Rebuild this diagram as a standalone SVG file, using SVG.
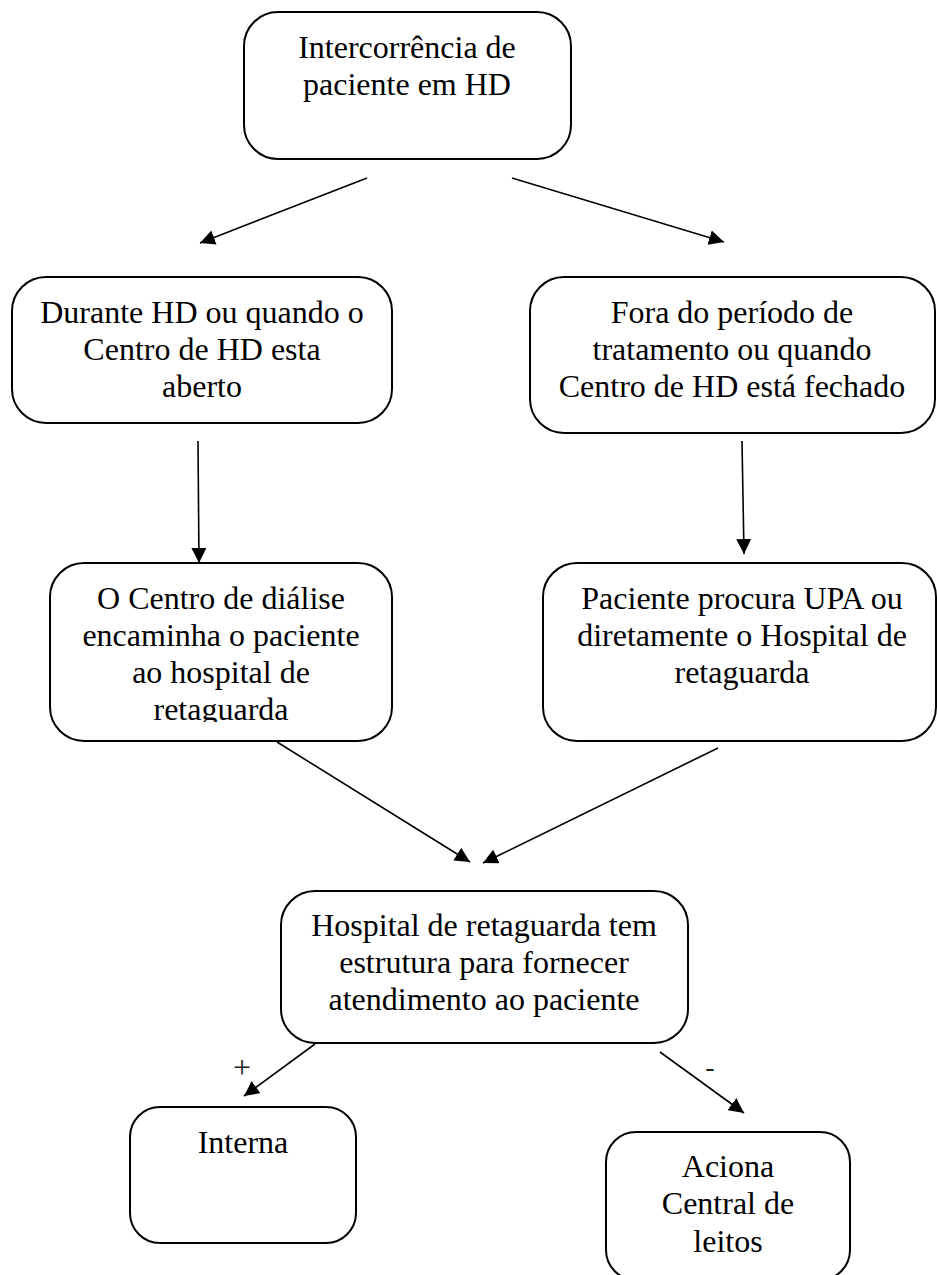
<svg xmlns="http://www.w3.org/2000/svg" width="937" height="1275" viewBox="0 0 937 1275">
  <style>
    .box { fill: #ffffff; stroke: #000000; stroke-width: 2; }
    .t { font-family: "Liberation Serif", "Times New Roman", serif; font-size: 32px; fill: #000000; text-anchor: middle; }
    .lbl { font-family: "Liberation Serif", "Times New Roman", serif; fill: #222222; text-anchor: middle; }
    .conn { fill: none; stroke: #000000; stroke-width: 1.6; }
  </style>
  <defs>
    <marker id="arrow" markerUnits="userSpaceOnUse" markerWidth="15" markerHeight="15" refX="15" refY="7.5" orient="auto">
      <path d="M0,0 L15,7.5 L0,15 z" fill="#000000"/>
    </marker>
    <clipPath id="clip4">
      <rect x="50" y="563" width="342" height="159"/>
    </clipPath>
  </defs>
  <rect width="937" height="1275" fill="#ffffff"/>

  <g id="n1">
    <rect class="box" x="244" y="12" width="327" height="147" rx="34" ry="34"/>
    <text class="t" x="407" y="58">Intercorrência de</text>
    <text class="t" x="407" y="95">paciente em HD</text>
  </g>

  <g id="n2">
    <rect class="box" x="12" y="277" width="380" height="146" rx="34" ry="34"/>
    <text class="t" x="202" y="323">Durante HD ou quando o</text>
    <text class="t" x="202" y="360">Centro de HD esta</text>
    <text class="t" x="202" y="397">aberto</text>
  </g>

  <g id="n3">
    <rect class="box" x="530" y="277" width="405" height="156" rx="34" ry="34"/>
    <text class="t" x="732" y="323">Fora do período de</text>
    <text class="t" x="732" y="360">tratamento ou quando</text>
    <text class="t" x="732" y="397">Centro de HD está fechado</text>
  </g>

  <g id="n4">
    <rect class="box" x="50" y="563" width="342" height="178" rx="34" ry="34"/>
    <g clip-path="url(#clip4)">
      <text class="t" x="221" y="609">O Centro de diálise</text>
      <text class="t" x="221" y="646">encaminha o paciente</text>
      <text class="t" x="221" y="683">ao hospital de</text>
      <text class="t" x="221" y="720">retaguarda</text>
    </g>
  </g>

  <g id="n5">
    <rect class="box" x="543" y="563" width="393" height="178" rx="34" ry="34"/>
    <text class="t" x="742" y="609">Paciente procura UPA ou</text>
    <text class="t" x="742" y="646">diretamente o Hospital de</text>
    <text class="t" x="742" y="683">retaguarda</text>
  </g>

  <g id="n6">
    <rect class="box" x="281" y="891" width="407" height="152" rx="34" ry="34"/>
    <text class="t" x="484" y="936">Hospital de retaguarda tem</text>
    <text class="t" x="484" y="973">estrutura para fornecer</text>
    <text class="t" x="484" y="1010">atendimento ao paciente</text>
  </g>

  <g id="n7">
    <rect class="box" x="130" y="1107" width="226" height="136" rx="30" ry="30"/>
    <text class="t" x="243" y="1153">Interna</text>
  </g>

  <g id="n8">
    <rect class="box" x="606" y="1132" width="244" height="148" rx="30" ry="30"/>
    <text class="t" x="728" y="1177">Aciona</text>
    <text class="t" x="728" y="1214">Central de</text>
    <text class="t" x="728" y="1252">leitos</text>
  </g>

  <g id="connectors">
    <line class="conn" x1="367" y1="178" x2="200" y2="243" marker-end="url(#arrow)"/>
    <line class="conn" x1="512" y1="178" x2="724" y2="242" marker-end="url(#arrow)"/>
    <line class="conn" x1="198" y1="441" x2="199" y2="563" marker-end="url(#arrow)"/>
    <line class="conn" x1="742" y1="441" x2="744" y2="554" marker-end="url(#arrow)"/>
    <line class="conn" x1="277" y1="742" x2="470" y2="862" marker-end="url(#arrow)"/>
    <line class="conn" x1="718" y1="748" x2="483" y2="863" marker-end="url(#arrow)"/>
    <line class="conn" x1="315" y1="1044" x2="244" y2="1096" marker-end="url(#arrow)"/>
    <line class="conn" x1="660" y1="1052" x2="744" y2="1113" marker-end="url(#arrow)"/>
    <text class="lbl" x="242" y="1078" font-size="32">+</text>
    <text class="lbl" x="710" y="1076" font-size="28">-</text>
  </g>
</svg>
